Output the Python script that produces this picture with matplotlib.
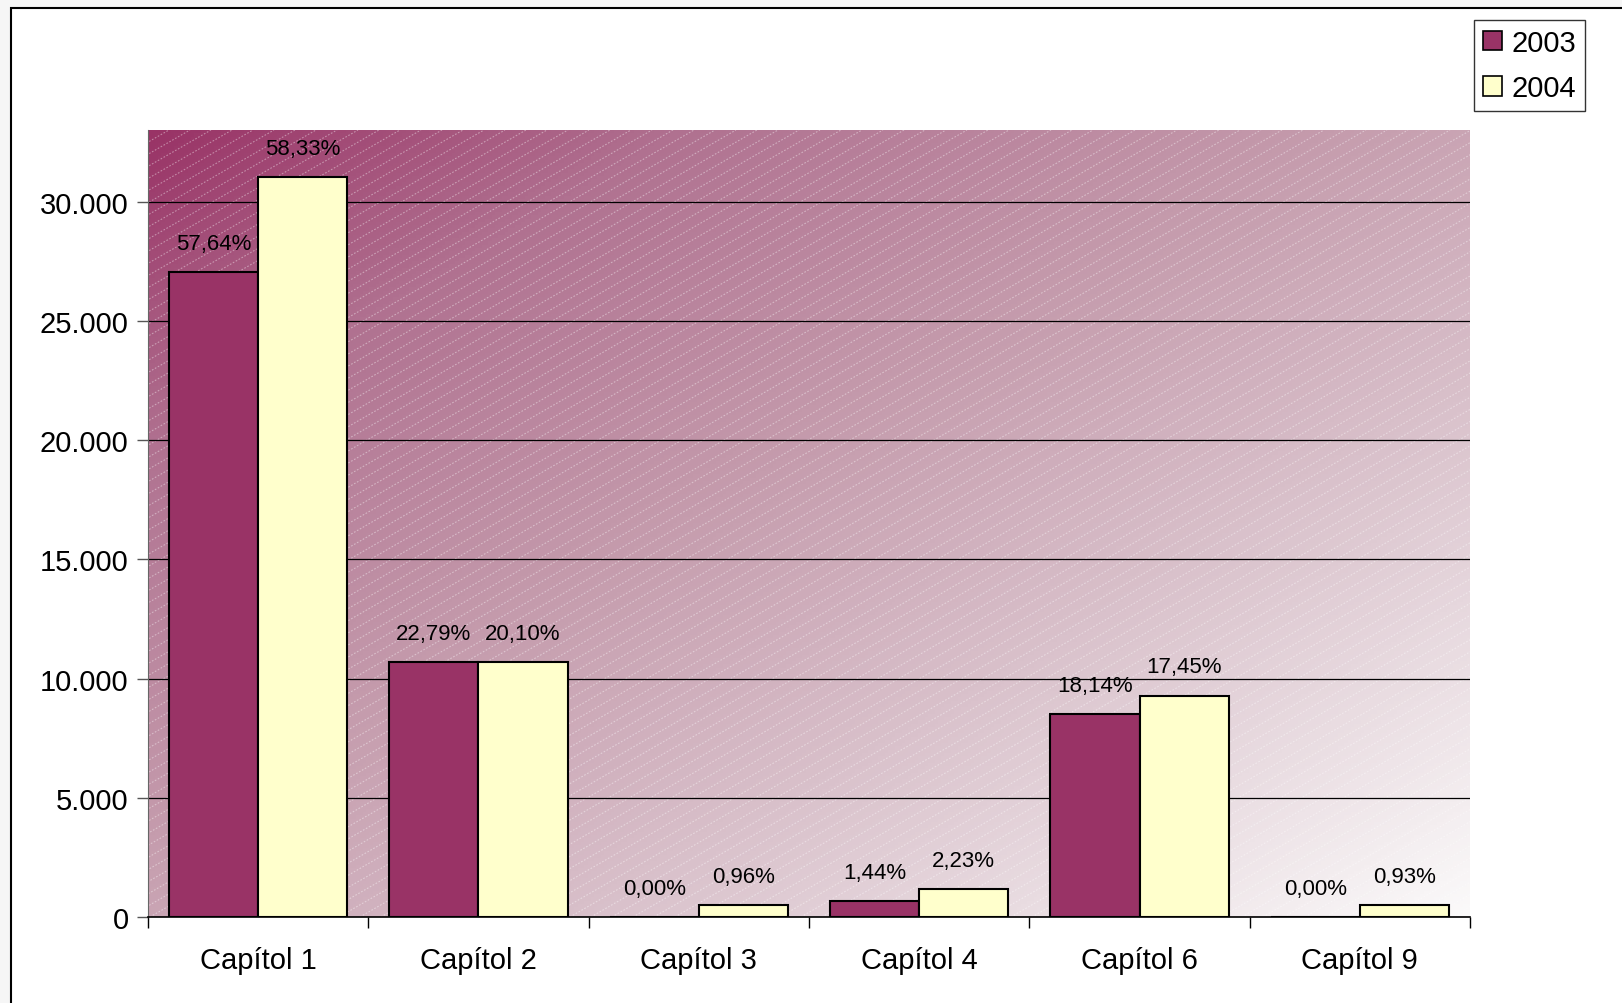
import numpy as np
import matplotlib.pyplot as plt
from matplotlib.patches import Patch, Rectangle
from matplotlib.colors import LinearSegmentedColormap

plt.rcParams['font.family'] = ['Liberation Sans', 'DejaVu Sans']

# dades
capitols = ['Capítol 1', 'Capítol 2', 'Capítol 3', 'Capítol 4', 'Capítol 6', 'Capítol 9']
valors_2003 = [27050, 10695, 0, 676, 8513, 0]
valors_2004 = [31040, 10697, 511, 1187, 9287, 495]
etiq_2003 = ['57,64%', '22,79%', '0,00%', '1,44%', '18,14%', '0,00%']
etiq_2004 = ['58,33%', '20,10%', '0,96%', '2,23%', '17,45%', '0,93%']

col_2003 = '#993366'
col_2004 = '#FFFFCC'

fig = plt.figure(figsize=(16.22, 10.04), dpi=100)
fig.patch.set_facecolor('#f6f6f6')
# marc exterior del gràfic
fig.add_artist(Rectangle((11 / 1622, -0.1), 1.2, 1 - 9 / 1004 + 0.1,
                         transform=fig.transFigure, facecolor='white',
                         edgecolor='black', linewidth=1.5, zorder=0))

ax = fig.add_axes([148 / 1622, 1 - 918 / 1004, (1470 - 148) / 1622, (918 - 131) / 1004])
ax.set_facecolor('none')

# fons degradat en diagonal
grad = LinearSegmentedColormap.from_list('fons', [
    (0.0, '#993366'), (0.2, '#b07190'), (0.45, '#c59cad'),
    (0.7, '#dcc6cf'), (1.0, '#fbfafa')])
nx, ny = 400, 240
xx, yy = np.meshgrid(np.linspace(0, 1, nx), np.linspace(0, 1, ny))
t = (xx + yy) / 2
ax.imshow(grad(t), extent=[0, 1, 0, 1], transform=ax.transAxes, aspect='auto', zorder=0)

# ratlles diagonals blanques del fons
w_px, h_px = 1322, 787
ang = np.tan(np.radians(30))
sp = 21
for x0 in np.arange(-h_px / ang, w_px, sp):
    xs = np.array([x0, x0 + h_px / ang])
    ys = np.array([0, h_px])
    ax.plot(xs / w_px, ys / h_px, transform=ax.transAxes, color='white',
            alpha=0.4, lw=0.8, ls=(0, (1.5, 1.5)), zorder=0.5, clip_on=True)

x = np.arange(len(capitols))
w = 0.404
b1 = ax.bar(x - w / 2, valors_2003, w, color=col_2003, edgecolor='black', linewidth=1.5, zorder=3)
b2 = ax.bar(x + w / 2, valors_2004, w, color=col_2004, edgecolor='black', linewidth=1.5, zorder=3)

for rects, labs in ((b1, etiq_2003), (b2, etiq_2004)):
    for r, lab in zip(rects, labs):
        ax.annotate(lab, (r.get_x() + r.get_width() / 2, r.get_height()),
                    xytext=(0, 13), textcoords='offset points', ha='center',
                    va='bottom', fontsize=16, zorder=4)

ax.set_xlim(-0.5, len(capitols) - 0.5)
ax.set_ylim(0, 33000)
ax.set_yticks(np.arange(0, 30001, 5000))
ax.set_yticklabels(['0', '5.000', '10.000', '15.000', '20.000', '25.000', '30.000'])
ax.yaxis.grid(True, color='black', linewidth=0.9, zorder=1)
ax.set_axisbelow(True)

ax.set_xticks(x)
ax.set_xticklabels(capitols)
ax.set_xticks(np.arange(-0.5, len(capitols), 1), minor=True)
ax.tick_params(axis='x', which='major', length=0, pad=21, labelsize=21)
ax.tick_params(axis='x', which='minor', length=8, width=1, color='black')
ax.tick_params(axis='y', length=8, width=1, color='#555555', labelsize=21, pad=6)

for s in ('top', 'right'):
    ax.spines[s].set_visible(False)
ax.spines['left'].set_color('#666666')
ax.spines['bottom'].set_color('black')
ax.spines['bottom'].set_linewidth(1.2)

handles = [Patch(facecolor=col_2003, edgecolor='black', linewidth=1.2),
           Patch(facecolor=col_2004, edgecolor='black', linewidth=1.2)]
leg = fig.legend(handles, ['2003', '2004'], loc='upper left',
                 bbox_to_anchor=(1474 / 1622, 1 - 21 / 1004), fontsize=21,
                 frameon=True, fancybox=False, edgecolor='black',
                 handlelength=0.65, handleheight=0.65, handletextpad=0.35,
                 borderpad=0.3, labelspacing=0.6, borderaxespad=0)
leg.get_frame().set_linewidth(1.0)

plt.savefig('out.png', dpi=100, facecolor=fig.get_facecolor())
